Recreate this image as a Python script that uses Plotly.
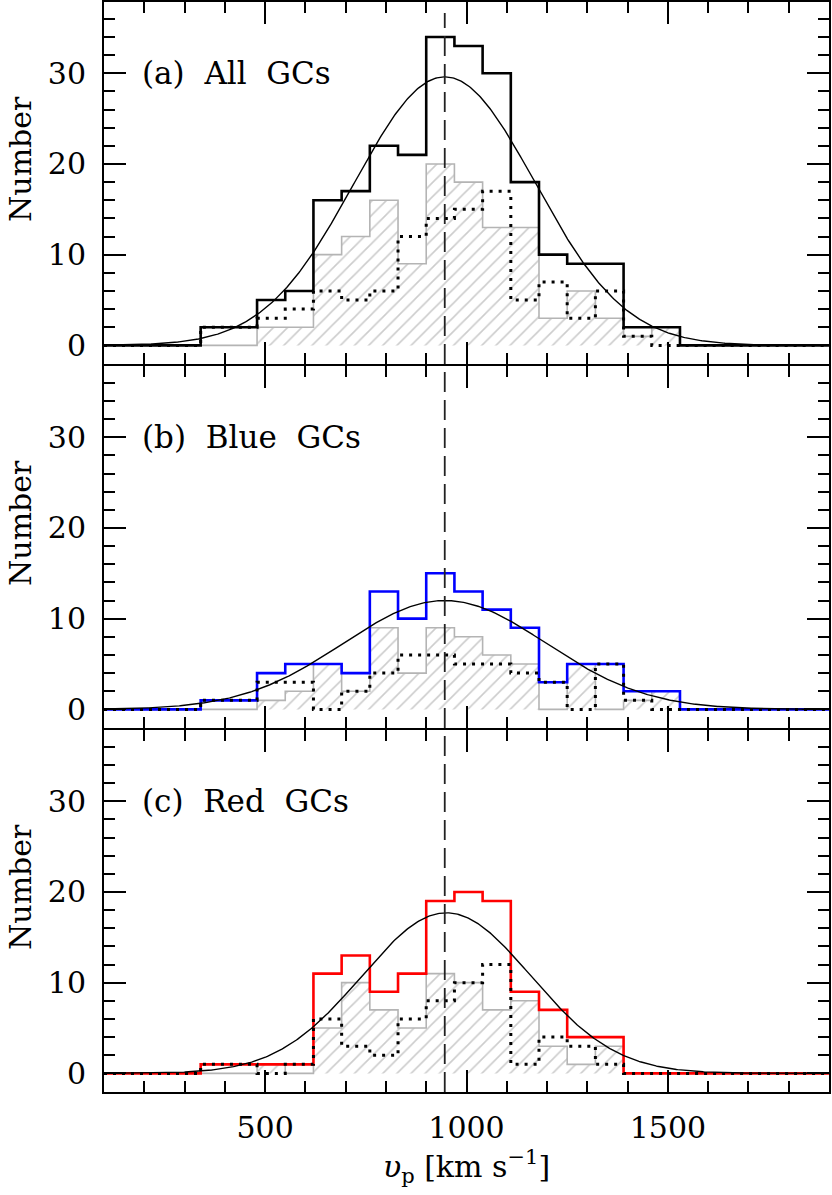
import numpy as np
import plotly.graph_objects as go
from plotly.subplots import make_subplots

# ---------------- data ----------------
bin_edges = [340, 410, 480, 550, 620, 690, 760, 830, 900, 970,
             1040, 1110, 1180, 1250, 1320, 1390, 1460, 1530]
x_range = [100, 1900]
y_range = [-2.05, 37.85]

# (a) All GCs
all_total = [2, 2, 5, 6, 16, 17, 22, 21, 34, 33, 30, 18, 10, 9, 9, 2, 2]
all_hatched = [0, 0, 2, 2, 10, 12, 16, 9, 20, 18, 13, 13, 3, 6, 3, 1, 2]
all_dotted = [2, 2, 3, 4, 6, 5, 6, 12, 14, 15, 17, 5, 7, 3, 6, 1, 0]
# (b) Blue GCs
blue_total = [1, 1, 4, 5, 5, 4, 13, 10, 15, 13, 11, 9, 3, 5, 5, 2, 2]
blue_hatched = [0, 0, 1, 2, 5, 2, 9, 4, 9, 8, 6, 5, 0, 5, 0, 1, 2]
blue_dotted = [1, 1, 3, 3, 0, 2, 4, 6, 6, 5, 5, 4, 3, 0, 5, 1, 0]
# (c) Red GCs
red_total = [1, 1, 1, 1, 11, 13, 9, 11, 19, 20, 19, 9, 7, 4, 4, 0, 0]
red_hatched = [0, 0, 1, 0, 5, 10, 7, 5, 11, 10, 7, 8, 3, 1, 3, 0, 0]
red_dotted = [1, 1, 0, 1, 6, 3, 2, 6, 8, 10, 12, 1, 4, 3, 1, 0, 0]

# Gaussian fits: (mean, sigma, peak)
gauss_all = (946, 224, 29.6)
gauss_blue = (946, 252, 12.0)
gauss_red = (950, 210, 17.7)

v_sys = 946  # dashed vertical line

panel_labels = ["(a)\u00a0\u00a0All\u00a0\u00a0GCs",
                "(b)\u00a0\u00a0Blue\u00a0\u00a0GCs",
                "(c)\u00a0\u00a0Red\u00a0\u00a0GCs"]
y_title = "Number"
x_title = "<i>υ</i><sub>p</sub> [km s<sup>−1</sup>]"
x_tickvals = [500, 1000, 1500]
y_tickvals = [0, 10, 20, 30]

# ---------------- figure ----------------
FONT = "DejaVu Serif"
W, H = 832, 1195
M_L, M_R, M_T, M_B = 104, 3, 2, 103
LW = 2  # frame line width
fig = make_subplots(rows=3, cols=1, shared_xaxes=True, vertical_spacing=0)


def step_xy(counts):
    xs = [x_range[0]] + bin_edges + [x_range[1]]
    ys = [0] + list(counts) + [0, 0]
    return xs, ys


def gauss_curve(p):
    m, s, a = p
    xs = np.linspace(x_range[0], x_range[1], 600)
    return xs, a * np.exp(-0.5 * ((xs - m) / s) ** 2)


panels = [
    (all_total, all_hatched, all_dotted, gauss_all, "#000000"),
    (blue_total, blue_hatched, blue_dotted, gauss_blue, "#0000ff"),
    (red_total, red_hatched, red_dotted, gauss_red, "#ff0000"),
]

PW = W - M_L - M_R
title_x = (2 - M_L) / PW  # paper x of the left edge of the rotated y titles

for i, (tot, hat, dot, gp, col) in enumerate(panels):
    row = i + 1
    sfx = '' if row == 1 else str(row)
    hx, hy = step_xy(hat)
    fig.add_trace(go.Scatter(
        x=hx, y=hy, mode="lines", line=dict(shape="hv", color="#b4b4b4", width=1.6),
        fill="tozeroy", fillcolor="rgba(255,255,255,0)",
        fillpattern=dict(shape="/", fgcolor="#9a9a9a", bgcolor="rgba(255,255,255,0)",
                         size=10, solidity=0.16),
        showlegend=False, hoverinfo="skip"), row=row, col=1)
    tx, ty = step_xy(tot)
    fig.add_trace(go.Scatter(
        x=tx, y=ty, mode="lines", line=dict(shape="hv", color=col, width=2.6),
        showlegend=False, hoverinfo="skip"), row=row, col=1)
    dx, dy = step_xy(dot)
    fig.add_trace(go.Scatter(
        x=dx, y=dy, mode="lines",
        line=dict(shape="hv", color="#000000", width=3, dash="3px,6px"),
        showlegend=False, hoverinfo="skip"), row=row, col=1)
    gx, gy = gauss_curve(gp)
    fig.add_trace(go.Scatter(
        x=gx, y=gy, mode="lines", line=dict(color="#000000", width=1.4),
        showlegend=False, hoverinfo="skip"), row=row, col=1)
    fig.add_annotation(x=190, y=30, xref="x" + sfx, yref="y" + sfx,
                       text=panel_labels[i], showarrow=False,
                       xanchor="left", yanchor="middle",
                       font=dict(family=FONT, size=31, color="black"))
    fig.add_annotation(x=title_x, y=20.5, xref="paper", yref="y" + sfx,
                       text=y_title, textangle=-90, showarrow=False,
                       xanchor="left", yanchor="middle", borderpad=0,
                       font=dict(family=FONT, size=30, color="black"))

# dashed vertical line spanning all panels
fig.add_shape(type="line", xref="x3", yref="paper", x0=v_sys, x1=v_sys,
              y0=0.0, y1=0.99, line=dict(color="#222222", width=1.8, dash="20px,8px"),
              layer="above")

# panel domains: leave a gap of one line width so adjacent frame lines merge
PH = H - M_T - M_B
ph = (PH - 2 * LW) / 3.0
domains = {
    3: [0.0, ph / PH],
    2: [(ph + LW) / PH, (2 * ph + LW) / PH],
    1: [(2 * ph + 2 * LW) / PH, 1.0],
}

for row in (1, 2, 3):
    fig.update_xaxes(range=x_range, tickvals=x_tickvals, ticks="inside", ticklen=22,
                     tickwidth=1.6, tickcolor="black", mirror="ticks",
                     showline=True, linecolor="black", linewidth=LW,
                     showgrid=False, zeroline=False,
                     minor=dict(dtick=100, tick0=0, ticks="inside", ticklen=11,
                                tickwidth=1.6, tickcolor="black", showgrid=False),
                     showticklabels=(row == 3), ticklabelstandoff=8,
                     tickfont=dict(family=FONT, size=30, color="black"),
                     row=row, col=1)
    fig.update_yaxes(range=y_range, tickvals=y_tickvals, ticks="inside", ticklen=22,
                     tickwidth=1.6, tickcolor="black", mirror="ticks",
                     showline=True, linecolor="black", linewidth=LW,
                     showgrid=False, zeroline=False, domain=domains[row],
                     minor=dict(dtick=2, tick0=0, ticks="inside", ticklen=11,
                                tickwidth=1.6, tickcolor="black", showgrid=False),
                     ticklabelstandoff=10,
                     tickfont=dict(family=FONT, size=30, color="black"),
                     row=row, col=1)

fig.update_xaxes(title=dict(text=x_title, standoff=4,
                            font=dict(family=FONT, size=30, color="black")),
                 row=3, col=1)

fig.update_layout(width=W, height=H,
                  margin=dict(l=M_L, r=M_R, t=M_T, b=M_B, autoexpand=False),
                  plot_bgcolor="white", paper_bgcolor="white",
                  font=dict(family=FONT, color="black"))

fig.write_html("out.html", config={"displayModeBar": False},
               post_script="document.body.style.margin='0px';document.body.style.overflow='hidden';")
